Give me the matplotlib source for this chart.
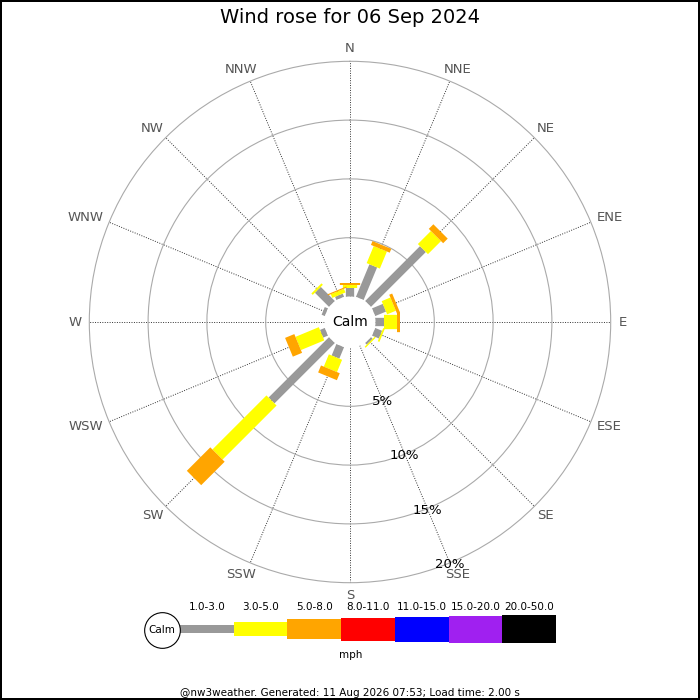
import numpy as np
import matplotlib
matplotlib.use('Agg')
import matplotlib.pyplot as plt

# Wind rose data: % of time per direction and speed band
directions = ['N', 'NNE', 'NE', 'ENE', 'E', 'ESE', 'SE', 'SSE',
              'S', 'SSW', 'SW', 'WSW', 'W', 'WNW', 'NW', 'NNW']
speed_bands = ['1.0-3.0', '3.0-5.0', '5.0-8.0', '8.0-11.0',
               '11.0-15.0', '15.0-20.0', '20.0-50.0']
band_1_3 = [0.70, 3.00, 6.60, 1.00, 0.70, 0.64, 0.20, 0, 0, 1.06, 7.27, 0.45, 0, 0.30, 1.70, 0.30]
band_3_5 = [0.25, 1.57, 1.57, 0.80, 1.10, 0.15, 0.12, 0, 0, 1.13, 6.50, 2.15, 0, 0, 0.17, 0.34]
band_5_8 = [0.17, 0.35, 0.55, 0.27, 0.25, 0, 0, 0, 0, 0.64, 2.82, 0.85, 0, 0, 0, 0.10]
band_8_11 = [0] * 16
band_11_15 = [0] * 16
band_15_20 = [0] * 16
band_20_50 = [0] * 16
ring_ticks = [5, 10, 15, 20]

bands = [band_1_3, band_3_5, band_5_8, band_8_11, band_11_15, band_15_20, band_20_50]
colors = ['#999999', '#ffff00', '#ffa500', '#ff0000', '#0000ff', '#a020f0', '#000000']
widths_px = [8.3, 14.3, 20.3, 23, 25, 27, 28.3]

px_per_pct = 11.76
calm_r = 25.5 / px_per_pct
rmax = 20
radius_px = (rmax + calm_r) * px_per_pct
cx, cy = 350, 322
PT = 0.72  # points per pixel at 100 dpi

fig = plt.figure(figsize=(7, 7), dpi=100)
fig.patch.set_edgecolor('black')
fig.patch.set_linewidth(1.5)

ax = fig.add_axes([(cx - radius_px) / 700, (700 - cy - radius_px) / 700,
                   2 * radius_px / 700, 2 * radius_px / 700], projection='polar')
ax.set_theta_zero_location('N')
ax.set_theta_direction(-1)
ax.set_rorigin(-calm_r)

theta = np.radians(np.arange(16) * 22.5)

# stacked bars as thick radial lines
base = np.zeros(16)
for vals, col, wpx in zip(bands, colors, widths_px):
    vals = np.array(vals, dtype=float)
    for th, b, v in zip(theta, base, vals):
        if v > 0:
            ax.plot([th, th], [b, b + v], color=col, lw=wpx * PT,
                    solid_capstyle='butt', zorder=3)
    base = base + vals

ax.set_ylim(0, rmax)
ax.set_xticks(theta)
ax.set_xticklabels([])
ax.set_yticks(ring_ticks[:-1])
ax.set_yticklabels([])
ax.xaxis.grid(True, color='#333333', linestyle=(0, (1, 1.5)), lw=0.7)
ax.yaxis.grid(True, color='#aaaaaa', linestyle='-', lw=0.8)
ax.spines['polar'].set_color('#aaaaaa')
ax.spines['polar'].set_linewidth(0.8)
ax.spines['inner'].set_color('none')
ax.tick_params(length=0)

# compass labels: pushed out from the ring, then shifted by half their size
labels = []
for th, name in zip(theta, directions):
    t = ax.annotate(name, xy=(th, rmax), xytext=(0, 0), textcoords='offset points',
                    ha='center', va='center', color='#555555', fontsize=9.5,
                    annotation_clip=False)
    labels.append(t)
fig.canvas.draw()
renderer = fig.canvas.get_renderer()
gap = 7.8
for th, t in zip(theta, labels):
    bb = t.get_window_extent(renderer)
    sx, sy = np.sin(th), np.cos(th)
    dx = sx * (gap + bb.width / 2)
    dy = sy * gap + sy * 5
    t.set_position((dx * PT, dy * PT))

for r in ring_ticks:
    ax.annotate(f'{r}%', xy=(np.radians(157.5), r), xytext=(0, -1.5 * PT),
                textcoords='offset points', ha='center', va='center',
                fontsize=9.5, color='black', annotation_clip=False, zorder=4)

ax.text(0.5, 0.5, 'Calm', transform=ax.transAxes, ha='center', va='center',
        fontsize=10)

# legend
lax = fig.add_axes([0, 0, 1, 112 / 700])
lax.set_xlim(0, 700)
lax.set_ylim(700, 588)
lax.axis('off')
seg_w = 53.7
centers = 180 + seg_w * (np.arange(len(speed_bands)) + 0.5)
hts = np.array(widths_px)
lax.bar(centers, hts, width=seg_w, bottom=629.2 - hts / 2, color=colors)
for x, lab in zip(centers, speed_bands):
    lax.text(x, 607.5, lab, ha='center', va='center', fontsize=7.5)
lax.scatter([162.3], [630], s=660, facecolor='white', edgecolor='black', lw=0.8)
lax.text(162.3, 630, 'Calm', ha='center', va='center', fontsize=7.5)
lax.text(351, 654.5, 'mph', ha='center', va='center', fontsize=7.5)

fig.text(0.5, 1 - 17.5 / 700, 'Wind rose for 06 Sep 2024', ha='center', va='center',
         fontsize=14)
fig.text(0.5, 1 - 692.5 / 700,
         '@nw3weather. Generated: 11 Aug 2026 07:53; Load time: 2.00 s',
         ha='center', va='center', fontsize=7.5)

fig.savefig('out.png', dpi=100)
